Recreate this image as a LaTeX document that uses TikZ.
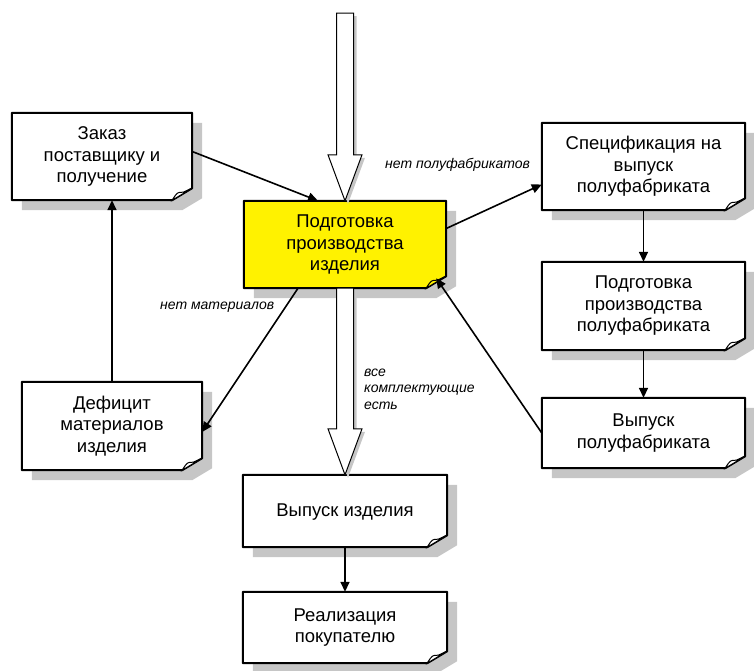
\documentclass[tikz,border=0pt]{standalone}
\usepackage{fontspec}
\setmainfont{Liberation Sans}
\usetikzlibrary{arrows.meta,backgrounds}

\newcommand{\contour}[1]{(#1.north west) -- (#1.north east) -- ([yshift=12pt]#1.south east) -- ([xshift=-20pt]#1.south east) -- (#1.south west) -- cycle}
\newcommand{\feuille}[2]{%
  \fill[gray!45, transform canvas={shift={(10pt,-10pt)}}] \contour{#1};
  \draw[line width=2pt, fill=#2, line join=round] \contour{#1};
  \draw[line width=1pt, fill=#2] ([xshift=-20pt]#1.south east) .. controls ([shift={(-15pt,8pt)}]#1.south east) .. ([shift={(-9pt,8pt)}]#1.south east) -- ([yshift=12pt]#1.south east) -- cycle;}
\newcommand{\fleche}[2]{([xshift=-8.5pt]#1) -- ([shift={(-8.5pt,46pt)}]#2) -- ([shift={(-17pt,46pt)}]#2) -- (#2) -- ([shift={(17pt,46pt)}]#2) -- ([shift={(8.5pt,46pt)}]#2) -- ([xshift=8.5pt]#1) -- cycle}
\newcommand{\grossefleche}[2]{%
  \fill[gray!45, transform canvas={shift={(3pt,-3pt)}}] \fleche{#1}{#2};
  \draw[fill=white, line width=1pt] \fleche{#1}{#2};}

\begin{document}
\begin{tikzpicture}[x=1pt,y=-1pt]
\tikzstyle{lien}=[-{Triangle[length=10pt,width=9pt]},line width=1.6pt]
\tikzset{fiche/.style={minimum width=#1,minimum height=87pt,inner sep=0pt,align=center,
font=\fontsize{18.5}{21.5}\selectfont},
fiche/.default=202pt,
remarque/.style={anchor=west,align=left,inner sep=0pt,font=\fontsize{14}{16.5}\selectfont\itshape}}
\useasboundingbox (0,0) rectangle (754,670);

\node[fiche=180pt] (zakaz) at (102,156.5) {Заказ\\поставщику и\\получение};
\node[fiche] (podg) at (345,244.5) {Подготовка\\производства\\изделия};
\node[fiche=203pt] (spec) at (643.5,166.5) {Спецификация на\\выпуск\\полуфабриката};
\node[fiche=203pt,minimum height=88pt] (podgpf) at (643.5,306) {Подготовка\\производства\\полуфабриката};
\node[fiche=203pt,minimum height=70pt] (vyppf) at (643.5,433) {Выпуск\\полуфабриката};
\node[fiche=180pt,minimum height=88pt] (deficit) at (112,426) {Дефицит\\материалов\\изделия};
\node[fiche=204pt,minimum height=72pt] (vypizd) at (345,511) {\\[-7pt]Выпуск изделия};
\node[fiche=204pt,minimum height=71pt] (real) at (345,627.5) {Реализация\\покупателю};
\coordinate (entree) at (345,13);

\begin{scope}[on background layer]
\foreach \n/\c in {zakaz/white,podg/yellow,spec/white,podgpf/white,vyppf/white,deficit/white,vypizd/white,real/white}
  {\feuille{\n}{\c}}
\end{scope}

\grossefleche{entree}{podg.north}
\grossefleche{podg.south}{vypizd.north}

\draw[lien] ([yshift=5pt]zakaz.east) -- ([xshift=-27pt]podg.north);
\draw[lien] (deficit.north) -- (deficit.north |- zakaz.south);
\draw[lien] ([xshift=-47pt]podg.south) -- ([yshift=-6pt]deficit.east);
\draw[lien] ([yshift=16pt]podg.east) -- ([yshift=-18pt]spec.west);
\draw[lien] (spec.south) -- (podgpf.north);
\draw[lien] (podgpf.south) -- (vyppf.north);
\draw[lien] (vyppf.west) -- ([shift={(-10pt,10pt)}]podg.south east);
\draw[lien] (vypizd.south) -- (real.north);

\node[remarque] (netmat) at (160,307) {нет материалов};
\node[remarque] (vse) at (364,389) {все\\комплектующие\\есть};
\node[remarque] (netpf) at (385,165) {нет полуфабрикатов};

\end{tikzpicture}
\end{document}
